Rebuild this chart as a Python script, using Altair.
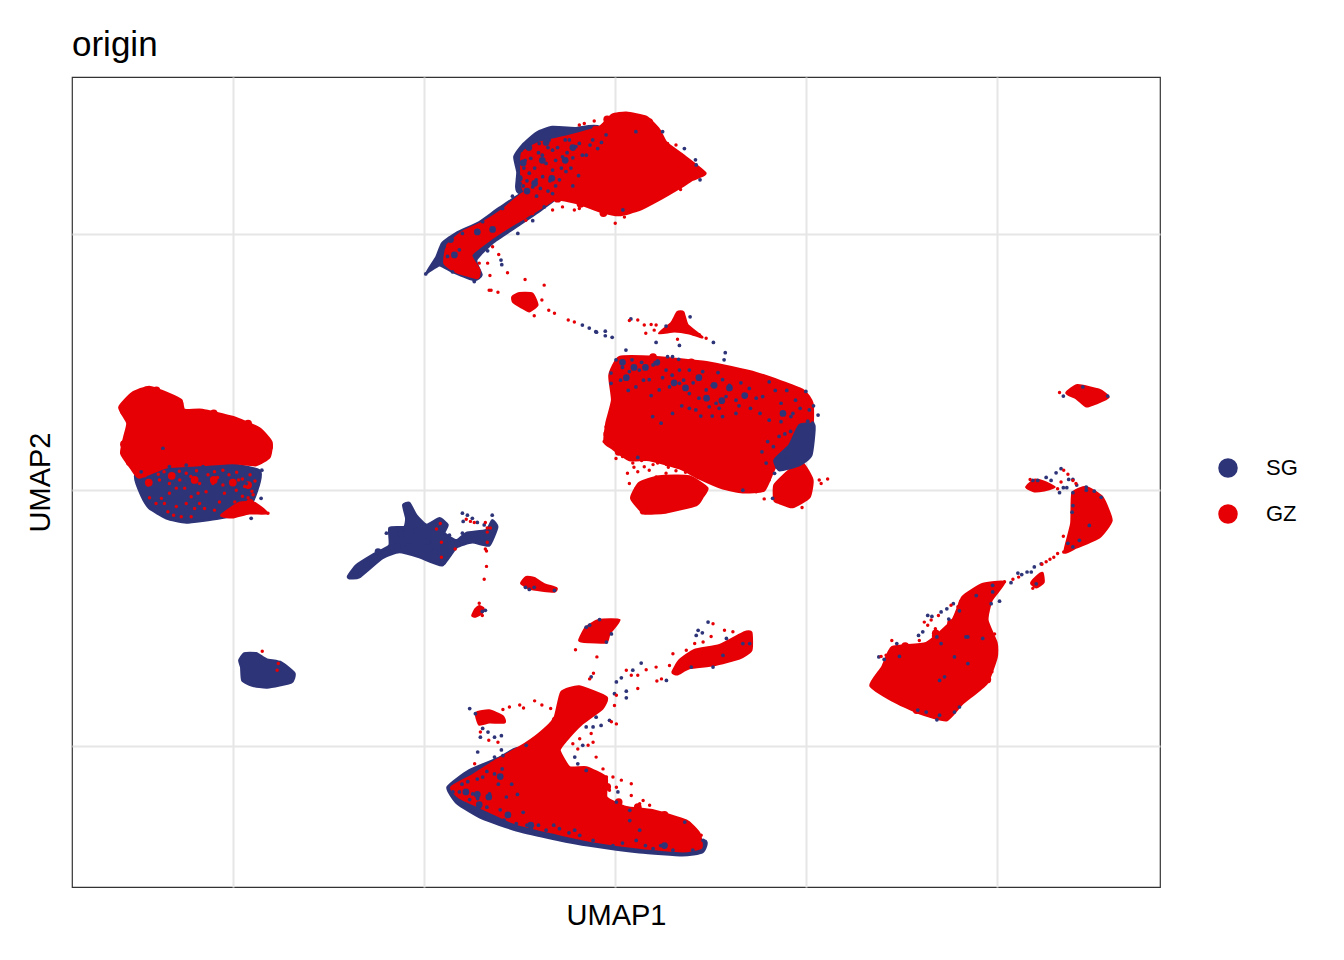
import altair as alt
import pandas as pd

NAVY = "#2E3478"
RED = "#E60005"
FONT = "Liberation Sans"
GREY = "#E6E6E6"

# ---- dense cloud outlines (UMAP1, UMAP2) ----
navy_under = {
    "top": [(-2.05,6.99),(-1.64,7.10),(-1.01,7.08),(-0.41,7.10),(0.12,6.32),(-1.64,5.73),(-2.50,5.81),(-2.58,5.93),(-2.55,6.22),(-2.63,6.52),(-2.42,6.75)],
    "tail": [(-2.30,5.85),(-3.02,5.52),(-3.55,5.24),(-4.15,5.03),(-4.52,4.83),(-4.67,4.56),(-4.93,4.25),(-4.59,4.40),(-4.25,4.27),(-3.68,4.11),(-3.49,4.21),(-3.63,4.50),(-3.21,4.83),(-2.58,5.15),(-2.05,5.42),(-1.40,5.80)],
    "left": [(-12.53,0.33),(-12.37,-0.14),(-12.19,-0.35),(-11.74,-0.55),(-11.22,-0.63),(-10.35,-0.55),(-9.65,-0.43),(-9.39,-0.06),(-9.31,0.39),(-10.88,0.59)],
    "spot": [(-9.83,-3.33),(-9.70,-3.19),(-9.39,-3.19),(-9.12,-3.31),(-8.73,-3.37),(-8.39,-3.58),(-8.47,-3.76),(-9.10,-3.86),(-9.49,-3.82),(-9.75,-3.72),(-9.78,-3.46)],
    "strand": [(-6.98,-1.68),(-6.77,-1.47),(-6.35,-1.27),(-5.90,-1.08),(-5.90,-0.74),(-5.51,-0.72),(-5.46,-0.55),(-5.54,-0.29),(-5.38,-0.25),(-5.20,-0.49),(-4.93,-0.68),(-4.59,-0.55),(-4.38,-0.68),(-4.46,-0.84),(-4.15,-0.98),(-3.89,-0.84),(-3.36,-0.78),(-3.21,-0.59),(-3.08,-0.72),(-3.29,-1.08),(-3.73,-1.02),(-4.15,-1.12),(-4.52,-1.47),(-5.12,-1.31),(-5.64,-1.21),(-6.09,-1.33),(-6.69,-1.70),(-6.95,-1.72)],
    "bottom": [(-4.38,-5.81),(-3.81,-5.48),(-3.02,-5.23),(-2.50,-5.05),(-2.24,-5.87),(-1.45,-6.46),(0.64,-6.95),(2.34,-6.85),(2.29,-7.08),(1.77,-7.14),(0.64,-7.08),(-0.67,-6.95),(-1.53,-6.83),(-2.58,-6.65),(-3.47,-6.42),(-4.12,-6.13)],
}
red_clouds = {
    "top": [(-2.42,6.60),(-1.98,6.79),(-1.27,6.91),(-0.41,7.10),(-0.07,7.34),(0.30,7.38),(0.82,7.30),(1.16,7.05),(1.35,6.79),(1.77,6.56),(2.37,6.20),(2.03,6.07),(1.69,5.91),(1.16,5.68),(0.64,5.48),(0.12,5.38),(-0.33,5.44),(-1.01,5.62),(-1.64,5.71),(-2.24,5.73),(-2.42,5.93),(-2.45,6.32)],
    "tail": [(-2.30,5.85),(-2.94,5.48),(-3.47,5.23),(-3.99,5.05),(-4.38,4.79),(-4.46,4.44),(-4.15,4.27),(-3.60,4.15),(-3.55,4.31),(-3.76,4.60),(-3.29,4.89),(-2.68,5.19),(-2.16,5.42),(-1.40,5.80)],
    "drop": [(-2.68,3.78),(-2.50,3.85),(-2.16,3.84),(-2.03,3.62),(-2.24,3.50),(-2.45,3.58),(-2.66,3.68)],
    "left": [(-12.97,1.62),(-12.63,1.90),(-12.19,2.02),(-11.66,1.88),(-11.35,1.76),(-11.27,1.57),(-10.80,1.57),(-10.01,1.43),(-9.31,1.21),(-8.99,0.94),(-9.04,0.65),(-9.39,0.49),(-10.01,0.53),(-10.88,0.49),(-11.74,0.45),(-12.45,0.25),(-12.66,0.43),(-12.92,0.72),(-12.84,1.04),(-12.76,1.31)],
    "lefttail": [(-10.30,-0.49),(-9.83,-0.25),(-9.44,-0.25),(-9.10,-0.45),(-9.57,-0.45),(-10.01,-0.53)],
    "centre": [(-0.14,2.25),(0.12,2.60),(1.09,2.60),(2.40,2.50),(3.70,2.29),(4.91,1.96),(5.17,1.70),(5.17,1.23),(5.01,0.78),(4.75,0.55),(4.23,0.49),(3.91,0.00),(3.34,-0.04),(2.81,0.04),(2.21,0.23),(1.69,0.43),(0.90,0.59),(0.38,0.59),(-0.07,0.82),(-0.27,0.94),(-0.22,1.31),(-0.07,1.76)],
    "centre_l": [(0.43,-0.16),(0.64,0.14),(1.16,0.27),(1.95,0.27),(2.42,0.04),(2.29,-0.14),(2.13,-0.29),(1.35,-0.43),(0.77,-0.45)],
    "centre_r": [(4.18,-0.20),(4.18,0.10),(4.57,0.39),(4.91,0.53),(5.17,0.20),(5.09,-0.14),(4.65,-0.33),(4.31,-0.25)],
    "peak": [(1.16,3.07),(1.48,3.27),(1.64,3.48),(1.79,3.48),(1.90,3.23),(2.29,2.99),(1.95,3.07),(1.56,3.11)],
    "bottom": [(-4.28,-5.81),(-3.73,-5.58),(-3.10,-5.28),(-2.50,-5.03),(-1.98,-4.76),(-1.58,-4.46),(-1.40,-3.95),(-0.93,-3.84),(-0.22,-4.05),(-0.33,-4.27),(-0.85,-4.56),(-1.27,-4.89),(-1.45,-5.09),(-1.19,-5.42),(-0.75,-5.42),(-0.22,-5.62),(-0.22,-6.01),(0.30,-6.20),(0.98,-6.26),(1.87,-6.46),(2.21,-6.71),(2.26,-6.99),(1.77,-7.06),(0.64,-6.99),(-0.67,-6.85),(-1.53,-6.71),(-2.58,-6.52),(-3.47,-6.22),(-4.07,-6.01)],
    "wing": [(1.51,-3.56),(1.69,-3.33),(2.08,-3.13),(2.74,-3.03),(3.39,-2.78),(3.57,-2.78),(3.57,-3.13),(3.26,-3.29),(2.60,-3.42),(1.95,-3.48),(1.64,-3.60)],
    "cap": [(-0.93,-2.94),(-0.75,-2.68),(-0.41,-2.54),(0.12,-2.54),(-0.14,-2.80),(-0.22,-2.97),(-0.67,-2.97)],
    "islet": [(-3.63,-4.36),(-3.29,-4.31),(-2.94,-4.42),(-2.89,-4.54),(-3.29,-4.54),(-3.55,-4.58)],
    "right": [(6.69,-3.82),(7.00,-3.46),(7.26,-3.07),(8.15,-2.99),(8.84,-2.54),(9.10,-2.09),(9.62,-1.84),(10.20,-1.80),(9.86,-2.15),(9.75,-2.54),(9.99,-2.99),(9.99,-3.27),(9.73,-3.78),(9.10,-4.17),(8.68,-4.50),(7.97,-4.36),(7.26,-4.11)],
    "crescent": [(11.77,-1.21),(11.95,-0.65),(11.98,-0.06),(12.34,0.06),(12.76,-0.14),(13.00,-0.59),(12.68,-0.92),(12.08,-1.12)],
    "upright": [(11.82,1.90),(12.11,2.05),(12.68,1.96),(12.92,1.82),(12.60,1.70),(12.34,1.64),(12.08,1.80)],
    "sliver": [(10.77,0.06),(10.98,0.20),(11.24,0.16),(11.51,0.06),(11.24,0.00),(10.98,-0.02)],
    "knot": [(10.90,-1.82),(11.03,-1.70),(11.19,-1.62),(11.22,-1.80),(11.03,-1.90)],
    "mid1": [(-2.45,-1.82),(-2.32,-1.70),(-2.11,-1.72),(-1.85,-1.84),(-1.53,-1.92),(-1.58,-1.98),(-1.90,-1.96),(-2.24,-1.92)],
    "mid2": [(-3.73,-2.45),(-3.65,-2.33),(-3.55,-2.27),(-3.44,-2.31),(-3.49,-2.41),(-3.65,-2.47)],
}
navy_over = {
    "c4": [(4.57,0.88),(4.83,1.27),(5.22,1.27),(5.14,0.68),(4.83,0.49),(4.31,0.39),(4.18,0.59)],
}

# ---- clumps of cells where the two origins mix ----
sg_clumps = [
 (-2.40,6.40),(-2.50,6.10),(-2.25,6.70),(-1.90,6.45),(-1.65,6.10),(-2.10,6.00),(-1.30,6.45),(-1.80,6.80),(-1.10,6.70),(-2.30,5.85),
 (-3.20,5.10),(-3.60,5.05),(-4.20,4.60),(-4.30,4.90),
 (0.20,2.50),(0.50,2.40),(0.80,2.40),(1.10,2.50),(0.30,2.20),(1.55,2.10),(1.85,2.00),(2.40,1.80),(2.80,1.75),(3.00,2.00),(2.60,2.05),(2.20,2.20),(3.40,1.85),(4.40,1.50),
 (-3.90,-5.90),(-3.60,-5.95),(-3.30,-6.00),(-3.00,-5.60),(-3.55,-6.15),(-2.80,-6.35),(-2.20,-6.55),(1.30,-6.95),
 (-5.60,-0.85),(-5.20,-0.80),(-4.90,-1.00),(-5.40,-1.10),(-4.70,-1.20),(-4.50,-1.40),(-5.70,-1.10),(-6.20,-1.20),(-6.50,-1.45),(-6.80,-1.60),
]
gz_clumps = [
 (2.10,6.20),(1.70,6.40),(1.30,6.75),(0.90,7.20),(0.40,7.30),(-0.20,7.25),(-0.50,7.05),(1.60,5.95),(1.00,5.70),(0.40,5.50),(-0.30,5.42),(-0.90,5.60),(-1.50,5.70),
 (-12.85,1.55),(-12.50,1.85),(-12.00,1.95),(-11.40,1.70),(-10.50,1.50),(-9.60,1.30),(-9.05,0.85),(-12.85,0.90),(-12.70,0.55),
 (-12.20,0.15),(-11.60,0.28),(-11.00,0.20),(-10.50,0.20),(-10.00,0.15),(-9.60,0.10),(-9.55,-0.25),
 (-0.20,1.10),(0.00,2.00),(0.10,0.75),(4.90,1.85),(3.50,2.25),(2.00,2.50),(1.00,2.60),
 (0.60,0.00),(0.75,-0.40),(1.30,-0.38),(2.10,-0.20),
 (-0.20,-5.80),(0.10,-6.10),(0.60,-6.20),(1.30,-6.35),(1.90,-6.55),(-1.35,-4.20),(-1.55,-4.50),
 (7.20,-3.30),(7.60,-3.05),(8.40,-2.80),(8.80,-2.60),(9.10,-2.20),(9.90,-3.00),(9.75,-3.70),(7.00,-3.90),(7.90,-4.30),
]

# ---- single cells ----
sg_cells = [
 (-1.63,6.65),(-1.19,6.85),(-1.80,6.39),(-2.06,6.07),(-2.20,6.49),(-1.45,6.07),(-1.89,6.13),(-1.63,6.26),(-1.98,6.78),(-1.37,6.52),(-0.93,6.78),(-0.58,6.85),(-0.23,6.95),(-2.24,6.20),(-2.15,5.93),(-1.63,5.80),(-1.85,5.54),(-1.02,6.72),(-0.75,6.55),(-1.28,6.23),(-0.45,6.68),(-1.72,6.85),(-1.54,6.98),(0.55,7.01),(1.25,7.01),(1.82,6.68),(2.11,6.46),(2.23,6.07),(2.13,6.36),(0.21,5.48),(-2.54,5.02),(-2.15,5.27),(-2.98,4.50),(-2.96,4.41),(-3.64,4.60),(-3.33,4.68),(-4.25,4.27),(-3.68,4.08),(-4.95,4.23),(-4.47,4.76),(-3.99,5.02),(-3.46,5.25),(-2.94,5.51),(-2.68,5.75),(-4.07,4.70),(-4.38,4.57),
 (-2.35,6.45),(-2.30,6.05),(-2.40,5.95),(-2.10,6.30),(-2.00,6.60),(-1.90,6.55),(-1.75,6.70),(-1.55,6.45),(-1.50,6.70),(-1.40,6.30),(-1.25,6.60),(-1.10,6.50),(-1.70,6.05),(-1.95,5.90),(-1.75,5.85),(-1.55,5.95),(-2.30,5.85),(-2.05,5.75),(-1.30,6.85),(-0.85,6.55),(-0.65,6.75),(-0.35,6.80),(-1.15,6.30),(-0.95,6.15),(-1.10,5.95),(-2.45,6.65),(-2.28,6.72),(-2.15,6.82),(-2.38,6.30),(-2.48,6.00),
 (-0.85,3.23),(-0.67,3.17),(-0.48,3.09),(-0.25,3.11),(-0.07,2.99),
 (1.43,2.02),(1.69,2.09),(1.95,1.89),(2.30,2.32),(2.65,1.70),(2.91,1.83),(3.17,1.76),(2.82,2.16),(2.39,1.96),(2.12,1.57),(1.69,2.35),(1.34,2.35),(1.95,2.35),(2.47,1.63),(2.73,1.60),(3.52,1.99),(3.87,1.83),(4.04,2.12),(4.35,1.70),(4.66,1.50),(4.73,1.76),(5.00,1.93),(5.20,1.65),(5.32,1.47),(5.18,1.31),(5.09,1.57),(4.61,1.44),(4.35,1.34),(4.04,1.37),(3.70,1.80),(3.17,1.50),(2.82,1.44),(1.51,1.50),(1.21,1.31),(0.99,1.44),(0.64,2.35),(0.38,2.32),(-0.10,2.29),(-0.10,2.09),(0.03,2.55),(0.29,2.74),(0.90,2.16),(0.55,2.02),(1.16,1.96),(1.08,2.89),(1.69,2.83),(1.97,3.39),(2.58,2.89),(2.89,2.69),(2.86,2.55),(0.60,0.64),(3.35,0.00),(4.18,0.33),(3.96,0.53),(4.31,0.66),(4.13,-0.16),(-0.50,3.10),(-0.25,3.02),(0.42,3.35),(1.34,3.21),(1.51,2.61),(1.38,2.61),(1.67,2.56),
 (0.20,2.40),(0.45,2.55),(0.70,2.50),(1.00,2.45),(1.25,2.20),(1.50,2.25),(1.80,2.15),(2.05,2.10),(2.20,1.80),(2.55,2.05),(2.70,2.30),(3.00,2.05),(3.30,2.10),(3.25,1.65),(3.55,1.60),(3.80,1.50),(4.20,1.95),(4.50,1.95),(4.85,1.60),(5.05,1.35),(1.75,1.65),(1.95,1.60),(2.25,1.45),(2.55,1.45),(0.15,2.15),(0.75,2.15),(0.35,1.95),(0.95,1.85),(4.45,1.10),(4.30,1.05),(4.15,0.85),(4.45,0.65),(3.85,0.75),(4.00,0.95),(4.25,0.45),(4.60,1.15),
 (-9.26,-0.16),(-9.52,-0.55),(-9.24,0.39),(-11.66,0.46),(-11.22,0.49),(-10.78,0.46),(-11.83,0.82),(-12.40,0.36),(-9.65,0.13),
 (-3.99,-0.45),(-3.86,-0.49),(-3.73,-0.55),(-3.60,-0.63),(-3.97,-0.61),(-5.98,-0.84),(-4.33,-0.88),(-4.33,-1.27),(-4.44,-1.33),(-3.99,-0.84),(-3.42,-0.68),(-3.21,-0.49),(-3.47,-2.37),(-3.39,-2.35),(-2.34,-1.90),(-2.24,-1.94),(-2.11,-1.90),(-1.58,-1.96),
 (-3.80,-4.27),(-3.65,-4.37),(-3.46,-4.66),(-3.52,-4.83),(-3.32,-4.73),(-3.15,-4.83),(-2.97,-4.80),(-3.59,-5.12),(-3.15,-5.22),(-2.97,-5.08),(-2.93,-5.19),(-2.32,-4.99),(-4.24,-5.90),(-4.07,-5.90),(-3.72,-5.94),(-3.59,-6.03),(-3.46,-5.61),(-3.72,-6.26),(-3.28,-5.94),(-3.19,-6.39),(-2.84,-6.00),(-2.58,-6.52),(-2.19,-6.62),(-1.80,-6.65),(-1.45,-6.62),(-0.92,-6.75),(-0.57,-6.85),(-0.05,-6.95),(0.56,-6.85),(1.00,-7.01),(1.52,-7.04),(2.04,-7.04),(2.31,-6.85),(1.83,-6.49),(0.39,-6.46),(0.39,-6.26),(0.04,-6.10),(0.08,-5.90),(-0.75,-4.63),(-0.57,-4.63),(-0.36,-4.60),(-0.14,-4.50),(-0.49,-4.44),(0.04,-3.75),(0.17,-3.67),(0.30,-3.93),(0.30,-4.06),(-0.01,-3.98),(-0.62,-3.65),(0.47,-3.52),(0.69,-3.38),(1.35,-3.72),(-0.75,-2.68),(-0.66,-2.64),(-0.40,-2.53),(-0.22,-2.97),(-0.09,-2.81),(3.53,-3.00),(3.35,-3.00),(2.92,-2.90),(2.44,-2.58),(2.18,-2.74),(2.29,-2.79),(2.13,-2.84),(2.57,-3.46),(2.00,-3.46),(2.83,-3.23),(-1.05,-5.22),(-0.84,-4.99),(-0.97,-5.35),(-0.75,-5.48),
 (-4.00,-5.75),(-3.85,-5.70),(-3.60,-5.65),(-3.35,-5.50),(-3.15,-5.55),(-2.95,-5.45),(-3.80,-6.05),(-3.55,-6.20),(-3.35,-6.20),(-3.00,-6.25),(-2.90,-6.45),(-2.70,-5.75),(-2.55,-5.95),(-2.40,-6.30),(-2.30,-6.55),(-2.00,-6.55),(-1.60,-6.55),(-1.20,-6.70),(-1.05,-6.65),(0.20,-6.90),(0.80,-6.95),(1.20,-6.95),(0.65,-6.65),(-3.05,-5.75),
 (6.91,-3.26),(7.05,-3.31),(7.45,-3.25),(7.38,-3.00),(8.19,-2.45),(8.30,-2.47),(8.54,-2.38),(8.69,-2.32),(8.86,-2.22),(9.02,-2.36),(8.74,-2.52),(8.06,-2.77),(7.95,-2.84),(8.43,-2.87),(8.54,-3.00),(9.63,-2.90),(9.24,-2.87),(9.02,-4.24),(8.89,-4.34),(8.50,-4.40),(8.43,-4.49),(8.15,-4.34),(7.93,-4.30),(10.07,-2.17),(9.85,-2.22),(9.46,-2.06),(9.89,-1.86),(9.89,-1.99),(10.37,-1.81),(10.55,-1.62),(10.65,-1.65),(10.79,-1.60),(10.90,-1.60),(10.98,-1.50),(11.16,-1.44),(11.03,-1.83),(11.55,0.34),(11.68,0.42),(11.42,0.19),(11.29,0.25),(11.88,0.21),(11.99,0.21),(12.09,0.10),(11.74,0.05),(11.83,0.05),(11.64,-0.05),(11.99,-0.05),(12.34,0.06),(12.55,-0.02),(12.73,-0.14),(11.99,-0.30),(11.97,-0.43),(11.86,-1.04),(11.99,-1.11),(12.16,-0.98),(12.42,-0.69),(12.34,0.00),(11.74,1.84),(12.90,1.84),(12.25,2.02),(10.94,0.19),(11.07,0.19),(8.50,-3.72),(9.19,-2.87),(8.89,-3.26),(8.63,-3.65),(9.24,-3.39),
]
gz_cells = [
 (-2.81,4.25),(-3.27,4.20),(-3.24,3.91),(-3.06,3.87),(-2.35,4.12),(-1.85,4.01),(-1.91,3.72),(-1.73,3.52),(-1.58,3.46),(-2.11,3.41),(-3.04,4.61),(-3.20,4.76),(-3.33,4.44),(-3.55,4.44),(0.01,5.22),(0.25,5.34),(1.72,5.88),(-0.93,7.14),(-0.80,7.17),(-0.54,7.22),(-1.63,5.48),(-1.37,5.54),(-0.93,5.51),(-1.06,5.48),(-2.15,5.41),(-2.33,5.28),(1.38,6.78),(1.60,6.75),(2.34,6.20),
 (-3.29,3.91),(-1.22,3.33),(-1.06,3.29),
 (0.38,3.32),(0.60,3.33),(0.77,3.23),(0.95,3.24),(1.08,3.23),(0.81,3.07),(1.03,3.13),(1.64,2.95),(2.39,2.97),(2.21,3.04),(-0.23,1.24),(-0.28,0.95),(0.03,0.62),(0.33,0.33),(0.60,0.36),(0.38,0.13),(0.90,0.39),(1.12,0.53),(1.34,0.33),(0.77,0.46),(1.08,0.26),(5.35,0.20),(5.57,0.22),(5.40,0.13),(4.90,-0.34),(3.91,-0.17),(3.70,-0.03),(4.04,0.20),(3.87,0.07),(0.47,0.53),(0.20,0.66),
 (0.50,0.45),(0.70,0.58),(1.00,0.50),(1.35,0.50),(1.60,0.38),(1.85,0.35),(0.85,0.15),(1.40,0.45),(1.55,0.48),
 (-12.18,-0.15),(-12.22,0.10),(-12.01,-0.26),(-11.87,-0.16),(-11.66,-0.06),(-11.92,0.20),(-11.66,0.13),(-11.48,0.04),(-11.39,0.20),(-11.22,0.33),(-11.70,-0.42),(-11.55,-0.49),(-11.35,-0.52),(-11.09,-0.52),(-11.00,-0.36),(-10.87,-0.26),(-10.74,-0.36),(-10.48,-0.39),(-10.35,-0.23),(-11.09,-0.13),(-10.91,-0.06),(-10.70,-0.03),(-10.52,0.13),(-10.26,0.10),(-10.22,-0.06),(-9.95,-0.23),(-9.91,0.00),(-9.69,0.07),(-9.47,-0.09),(-10.87,0.13),(-11.22,-0.26),(-11.48,-0.32),(-11.79,-0.26),(-11.26,0.04),(-10.48,0.36),(-10.26,0.39),(-9.08,-0.45),
 (-12.30,0.28),(-12.10,0.38),(-11.95,0.31),(-11.80,0.36),(-11.55,0.30),(-11.40,0.37),(-11.10,0.27),(-10.95,0.38),(-10.65,0.30),(-10.40,0.25),(-10.10,0.30),(-9.90,0.35),(-9.75,0.22),(-9.55,0.30),(-9.42,0.18),(-9.50,-0.02),(-9.60,-0.15),(-9.75,-0.12),(-9.85,0.20),
 (-9.23,-3.15),(-8.81,-3.39),(-8.84,-3.52),
 (-4.57,-0.65),(-4.67,-0.76),(-4.54,-1.02),(-4.54,-1.31),(-4.18,-1.15),(-3.89,-0.57),(-3.78,-0.61),(-3.68,-0.63),(-3.39,-0.63),(-3.34,-0.74),(-3.26,-0.74),(-3.34,-0.82),(-3.34,-1.02),(-3.39,-1.15),(-3.36,-1.19),(-3.36,-1.49),(-3.42,-1.74),(-3.55,-2.21),(-3.47,-2.45),
 (-1.03,-3.12),(-0.47,-3.26),(-0.56,-3.58),(-0.66,-3.69),(0.04,-4.01),(0.60,-3.88),(0.60,-3.62),(0.82,-3.51),(1.08,-3.46),(1.22,-3.69),(1.10,-3.73),(1.43,-3.43),(1.52,-3.20),(0.30,-3.52),(0.43,-3.62),(-2.10,-4.12),(-2.49,-4.20),(-2.39,-4.26),(-1.91,-4.20),(-1.68,-4.27),(-2.76,-4.24),(-2.93,-4.29),(-3.52,-4.73),(-3.30,-4.89),(-3.06,-4.93),(-3.67,-5.35),(-0.92,-4.86),(-0.57,-4.93),(-0.70,-4.99),(-0.49,-5.22),(-0.31,-5.45),(0.04,-4.57),(-0.09,-4.53),(-0.01,-4.21),(0.17,-5.67),(0.43,-5.74),(0.04,-5.81),(-0.14,-5.87),(0.43,-5.97),(0.74,-6.07),(0.91,-6.16),(0.65,-6.13),(2.26,-6.75),(-0.05,-5.61),(-0.22,-5.61),(-1.10,-4.96),(-0.97,-5.06),(-0.62,-4.76),(2.57,-2.61),(2.87,-2.74),(3.09,-2.77),(2.52,-2.86),(2.09,-3.00),(1.87,-3.13),(2.31,-2.97),
 (11.64,1.91),(10.87,0.21),(10.81,0.05),(11.68,0.16),(11.59,0.03),(11.75,0.39),(11.86,0.31),(11.99,0.19),(12.07,0.13),(11.74,-0.90),(11.75,-1.21),(11.59,-1.24),(11.49,-1.31),(11.39,-1.35),(11.29,-1.40),(11.18,-1.45),(10.57,-1.70),(10.42,-1.74),(10.20,-1.79),(10.94,-1.92),(7.25,-2.94),(7.10,-3.23),(6.97,-3.25),(8.10,-2.58),(8.28,-2.54),(8.47,-2.45),(8.39,-2.71),(8.19,-2.64),(8.80,-2.25),(8.98,-2.28),(9.87,-3.55),(9.94,-2.81),(8.58,-2.80),(8.34,-2.85),(7.97,-2.94),
]

x_grid = [-10, -5, 0, 5, 10]
y_grid = [-5, 0, 5]
x_dom = [-14.21, 14.27]
y_dom = [-7.76, 8.08]


def outline_frame(groups):
    rows = []
    for name, pts in groups.items():
        for i, (x, y) in enumerate(pts):
            rows.append({"blob": name, "i": i, "x": x, "y": y})
    return pd.DataFrame(rows)


def cell_frame(pts, label):
    return pd.DataFrame({"x": [p[0] for p in pts], "y": [p[1] for p in pts], "origin": label})


X = alt.X("x:Q", scale=alt.Scale(domain=x_dom, nice=False, zero=False),
          axis=alt.Axis(values=x_grid, labels=False, ticks=False, domain=False, grid=True,
                        gridColor=GREY, gridWidth=2, title="UMAP1", titleFont=FONT,
                        titleFontSize=29, titleFontWeight="normal", titleColor="black", titlePadding=14))
Y = alt.Y("y:Q", scale=alt.Scale(domain=y_dom, nice=False, zero=False),
          axis=alt.Axis(values=y_grid, labels=False, ticks=False, domain=False, grid=True,
                        gridColor=GREY, gridWidth=2, title="UMAP2", titleFont=FONT,
                        titleFontSize=29, titleFontWeight="normal", titleColor="black", titlePadding=17))


def cloud(groups, colour):
    return alt.Chart(outline_frame(groups)).mark_line(
        fill=colour, stroke=colour, strokeWidth=2.5, strokeJoin="round",
        interpolate="cardinal-closed", tension=0.5
    ).encode(x=X, y=Y, detail="blob:N", order="i:Q")


color = alt.Color("origin:N",
                  scale=alt.Scale(domain=["SG", "GZ"], range=[NAVY, RED]),
                  legend=alt.Legend(title=None, orient="none", legendX=1145, legendY=380,
                                    symbolType="circle", symbolSize=380, labelFont=FONT,
                                    labelFontSize=22, labelColor="black", labelOffset=27,
                                    rowPadding=24, symbolStrokeWidth=0))


def cells(pts, label, size):
    return alt.Chart(cell_frame(pts, label)).mark_circle(size=size, opacity=1).encode(x=X, y=Y, color=color)


chart = alt.layer(
    cloud(navy_under, NAVY),
    cloud(red_clouds, RED),
    cloud(navy_over, NAVY),
    cells(sg_clumps, "SG", 45),
    cells(gz_clumps, "GZ", 60),
    cells(sg_cells, "SG", 14),
    cells(gz_cells, "GZ", 12),
).properties(
    width=1088, height=810,
    title=alt.TitleParams("origin", anchor="start", font=FONT, fontSize=35, fontWeight="normal",
                          color="black", frame="group", offset=14),
    autosize=alt.AutoSizeParams(type="none"),
    padding={"left": 64, "top": 69, "right": 170, "bottom": 60},
).configure_view(stroke="#333333", strokeWidth=1.2)

chart.save("out.html", embed_options={"renderer": "svg", "actions": False})
